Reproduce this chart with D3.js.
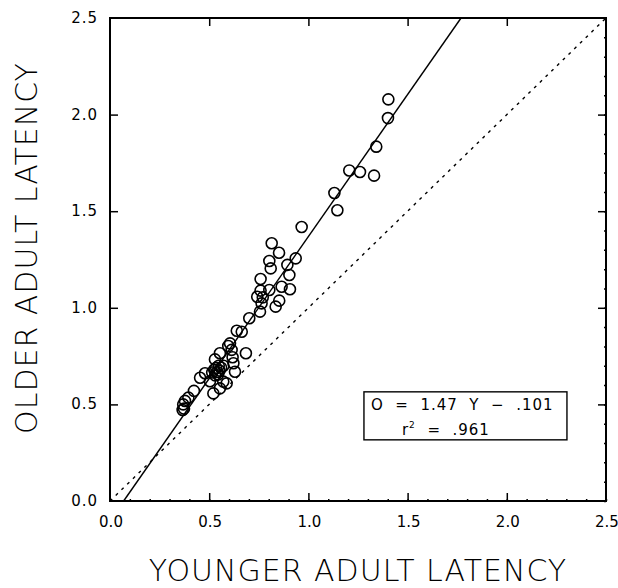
<!DOCTYPE html>
<html>
<head>
<meta charset="utf-8">
<script src="https://cdn.jsdelivr.net/npm/d3@7"></script>
<style>
body { margin:0; background:#fff; }
text { font-family: "DejaVu Sans", sans-serif; fill:#000; }
</style>
</head>
<body>
<div id="plot"></div>
<script>
// younger adult latency (x) vs older adult latency (y)
var younger = [0.366,0.373,0.369,0.378,0.395,0.423,0.454,0.504,0.521,0.554,0.571,0.588,
  0.479,0.515,0.525,0.535,0.540,0.548,0.552,0.530,0.545,0.630,0.529,0.554,0.618,0.622,
  0.685,0.605,0.596,0.613,0.639,0.664,0.702,0.756,0.835,0.764,0.853,0.742,0.770,0.759,
  0.803,0.907,0.865,0.759,0.904,0.810,0.894,0.803,0.936,0.852,0.815,0.966,1.146,1.131,
  1.206,1.260,1.331,1.342,1.401,1.403,0.560,0.572];
var older = [0.471,0.478,0.500,0.518,0.535,0.570,0.638,0.620,0.557,0.583,0.618,0.609,
  0.661,0.665,0.680,0.690,0.668,0.700,0.675,0.650,0.655,0.669,0.733,0.765,0.744,0.713,
  0.765,0.816,0.802,0.782,0.881,0.876,0.946,0.980,1.006,1.023,1.037,1.057,1.054,1.089,
  1.092,1.096,1.109,1.149,1.170,1.204,1.222,1.242,1.256,1.285,1.334,1.418,1.505,1.594,
  1.711,1.703,1.684,1.834,1.982,2.079,0.690,0.700];
var ticks = [0,0.5,1.0,1.5,2.0,2.5];
var slope = 1.47, intercept = -0.101;

var W = 618, H = 588;
var margin = {t:18, r:12, b:87, l:110};
var width = W - margin.l - margin.r, height = H - margin.t - margin.b;

var svg = d3.select('#plot').append('svg').attr('width',W).attr('height',H);
var plot = svg.append('g').attr('transform','translate('+margin.l+','+margin.t+')');

var x = d3.scaleLinear().domain([0,2.5]).range([0,width]);
var y = d3.scaleLinear().domain([0,2.5]).range([height,0]);

// frame
plot.append('rect').attr('width',width).attr('height',height)
  .attr('fill','none').attr('stroke','#000').attr('stroke-width',2);

// inward ticks, all four sides
var minor = d3.range(0,2.51,0.1);
function tickAxis(axis, len, vals) {
  return axis.tickValues(vals).tickSize(-len).tickFormat('');
}
plot.append('g').attr('transform','translate(0,'+height+')')
  .call(tickAxis(d3.axisBottom(x),8,ticks.slice(1,5)));
plot.append('g').call(tickAxis(d3.axisTop(x),8,ticks.slice(1,5)));
plot.append('g').call(tickAxis(d3.axisLeft(y),8,ticks.slice(1,5)));
plot.append('g').attr('transform','translate('+width+',0)')
  .call(tickAxis(d3.axisRight(y),8,ticks.slice(1,5)));
plot.append('g').attr('transform','translate(0,'+height+')')
  .call(tickAxis(d3.axisBottom(x),2,minor));
plot.append('g').attr('transform','translate('+width+',0)')
  .call(tickAxis(d3.axisRight(y),2,minor));
plot.selectAll('.domain').remove();
plot.selectAll('.tick line').attr('stroke','#000').attr('stroke-width',1.5);

// tick labels
plot.selectAll('.xl').data(ticks).enter().append('text')
  .attr('x',function(d){return x(d)+1;}).attr('y',height+26)
  .attr('text-anchor','middle').style('font-size','15px')
  .text(function(d){return d.toFixed(1);});
plot.selectAll('.yl').data(ticks).enter().append('text')
  .attr('x',-12).attr('y',function(d){return y(d)+5;})
  .attr('text-anchor','end').style('font-size','15px').style('letter-spacing','1px')
  .text(function(d){return d.toFixed(1);});

// identity line (dashed)
plot.append('line')
  .attr('x1',x(0)).attr('y1',y(0)).attr('x2',x(2.5)).attr('y2',y(2.5))
  .attr('stroke','#000').attr('stroke-width',1.4).attr('stroke-dasharray','3,5');

// regression line
var x0 = -intercept/slope, x1 = (2.5-intercept)/slope;
plot.append('line')
  .attr('x1',x(x0)).attr('y1',y(0)).attr('x2',x(x1)).attr('y2',y(2.5))
  .attr('stroke','#000').attr('stroke-width',1.4);

// points
plot.selectAll('circle').data(younger).enter().append('circle')
  .attr('cx',function(d){return x(d);})
  .attr('cy',function(d,i){return y(older[i]);})
  .attr('r',5.5).attr('fill','none').attr('stroke','#000').attr('stroke-width',1.6);

// equation box
var bx = x(1.28), by = y(0.565);
var box = plot.append('g').attr('transform','translate('+bx+','+by+')');
box.append('rect').attr('width',203).attr('height',48)
  .attr('fill','#fff').attr('stroke','#000').attr('stroke-width',1.4);
box.append('text').attr('x',7).attr('y',18).style('font-size','15px')
  .style('letter-spacing','1px').style('white-space','pre')
  .text('O  =  1.47  Y  −  .101');
var r2 = box.append('text').attr('x',38).attr('y',43).style('font-size','15px')
  .style('letter-spacing','1px').style('white-space','pre');
r2.append('tspan').text('r');
r2.append('tspan').attr('dy',-7).style('font-size','9px').text('2');
r2.append('tspan').attr('dy',7).text('  =  .961');

// axis titles
svg.append('text').attr('x',margin.l+width/2).attr('y',581)
  .attr('text-anchor','middle').style('font-size','30px').style('font-weight',200)
  .style('letter-spacing','1px').text('YOUNGER ADULT LATENCY');
svg.append('text').attr('transform','translate(37,248) rotate(-90)')
  .attr('text-anchor','middle').style('font-size','30px').style('font-weight',200)
  .style('letter-spacing','1px').text('OLDER ADULT LATENCY');
</script>
</body>
</html>
